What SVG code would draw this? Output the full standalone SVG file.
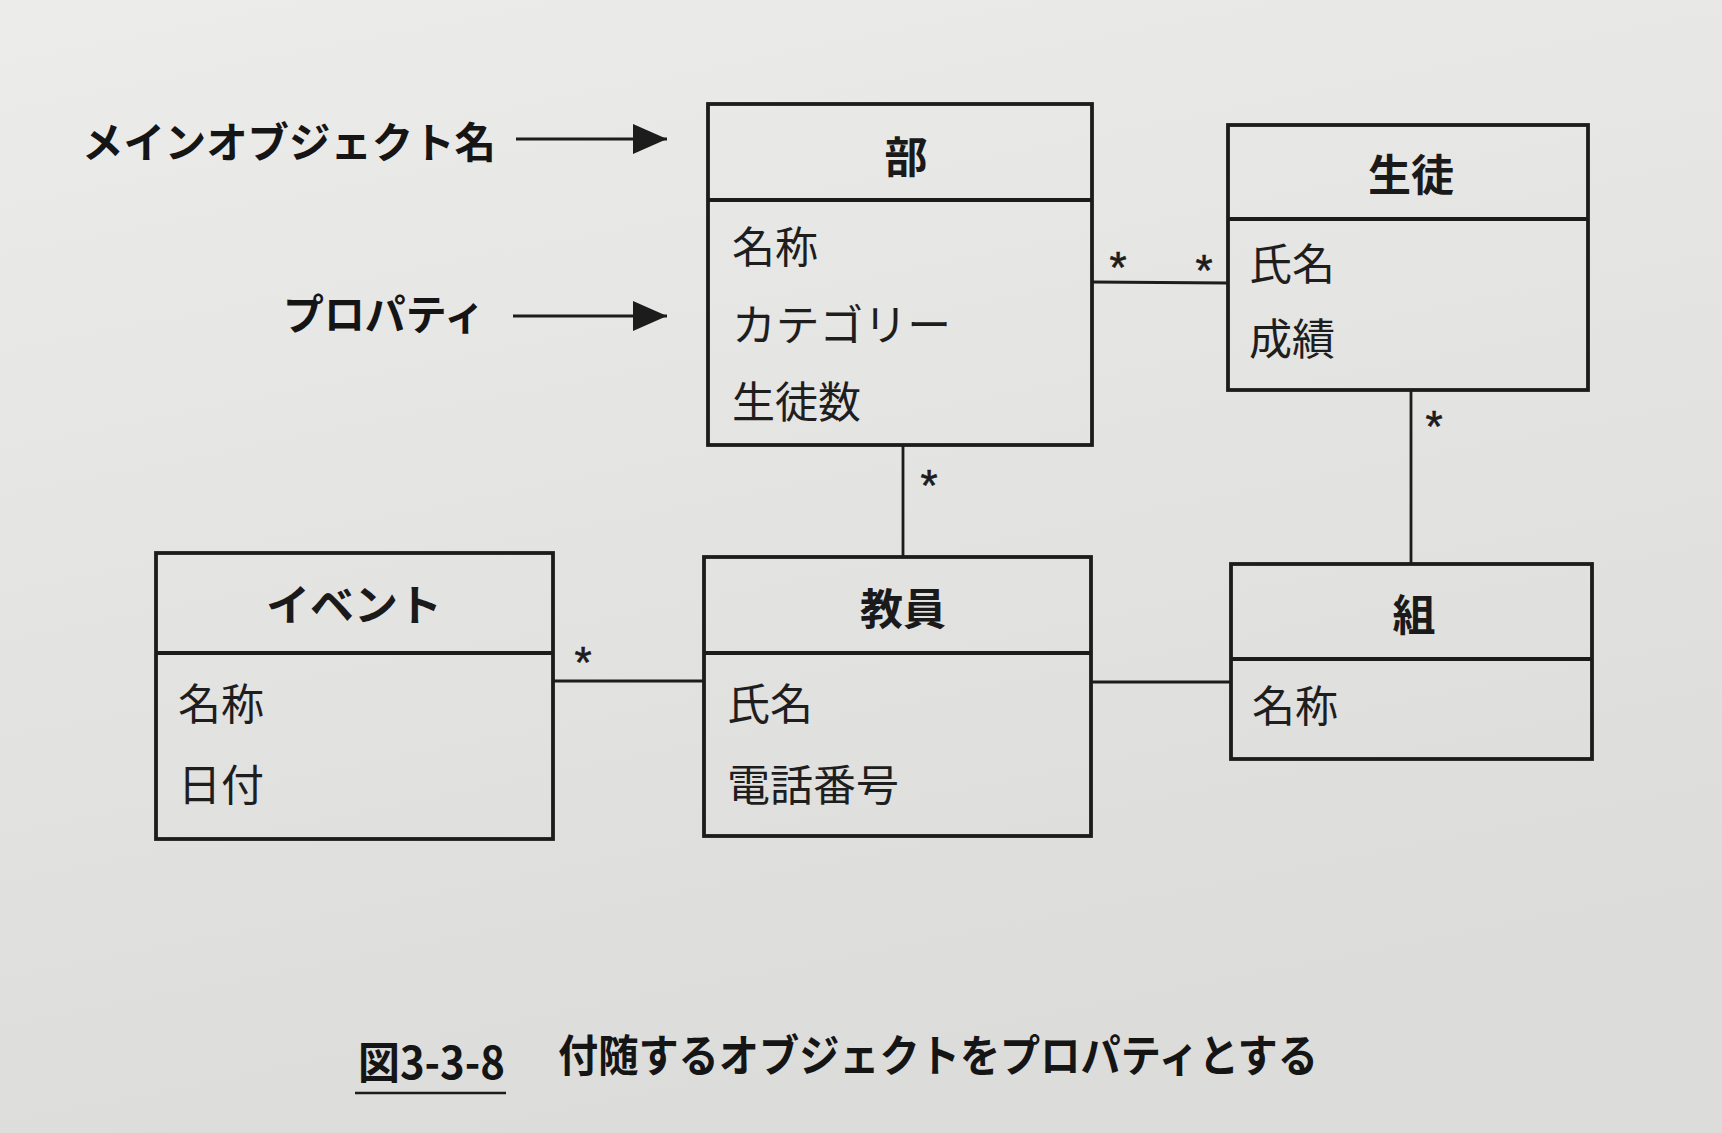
<svg xmlns="http://www.w3.org/2000/svg" width="1722" height="1133" viewBox="0 0 1722 1133">
<style>
.box{fill:none;stroke:#1c1c1c;stroke-width:3.8}
.div{stroke:#1c1c1c;stroke-width:3.8}
.con{stroke:#1c1c1c;stroke-width:2.8;fill:none}
.arr{stroke:#1c1c1c;stroke-width:3.2;fill:none}
.t{font-family:"Noto Sans CJK JP","Noto Sans",sans-serif;font-weight:700;font-size:43px;fill:#1a1a1a;text-anchor:middle;dominant-baseline:central}
.p{font-family:"Noto Sans CJK JP","Noto Sans",sans-serif;font-weight:400;font-size:43px;fill:#1e1e1e;dominant-baseline:central}
.lbl{font-family:"Noto Sans CJK JP","Noto Sans",sans-serif;font-weight:700;font-size:42px;fill:#151515;dominant-baseline:central}
.star{font-family:"Liberation Sans",sans-serif;font-size:44px;fill:#1c1c1c;stroke:#1c1c1c;stroke-width:0.6;text-anchor:middle}
.cap{font-family:"Noto Sans CJK JP","Noto Sans",sans-serif;font-weight:700;font-size:44px;fill:#151515;dominant-baseline:central}
</style>
<defs>
<linearGradient id="bg" x1="0" y1="0" x2="0.3" y2="1">
<stop offset="0" stop-color="#ececea"/>
<stop offset="1" stop-color="#dcdcda"/>
</linearGradient>
<marker id="ahBig" viewBox="0 0 34 30" refX="34" refY="15" markerWidth="34" markerHeight="30" markerUnits="userSpaceOnUse" orient="auto">
<path d="M0,0 L34,15 L0,30 Z" fill="#1c1c1c"/>
</marker>
</defs>
<rect x="0" y="0" width="1722" height="1133" fill="url(#bg)"/>

<g id="label-main">
<text class="lbl" x="82" y="139" textLength="414" lengthAdjust="spacingAndGlyphs">メインオブジェクト名</text>
</g>
<g id="label-prop">
<text class="lbl" x="283" y="311" textLength="202" lengthAdjust="spacingAndGlyphs">プロパティ</text>
</g>

<g id="connectors">
<line class="arr" x1="516" y1="139" x2="667" y2="139" marker-end="url(#ahBig)"/>
<line class="arr" x1="513" y1="316" x2="667" y2="316" marker-end="url(#ahBig)"/>
<line class="con" x1="1092" y1="282" x2="1228" y2="283"/>
<line class="con" x1="903" y1="445" x2="903" y2="557"/>
<line class="con" x1="1411" y1="390" x2="1411" y2="564"/>
<line class="con" x1="553" y1="681" x2="704" y2="681"/>
<line class="con" x1="1091" y1="682" x2="1231" y2="682"/>
<text class="star" x="1118" y="283">*</text>
<text class="star" x="1204" y="286">*</text>
<text class="star" x="929" y="501">*</text>
<text class="star" x="1434" y="442">*</text>
<text class="star" x="583" y="678">*</text>
</g>

<g id="node-bu">
<rect class="box" x="708" y="104" width="384" height="341"/>
<line class="div" x1="708" y1="200" x2="1092" y2="200"/>
<text class="t" x="906" y="154">部</text>
<text class="p" x="732" y="244">名称</text>
<text class="p" x="732" y="322" textLength="219" lengthAdjust="spacingAndGlyphs">カテゴリー</text>
<text class="p" x="732" y="399">生徒数</text>
</g>

<g id="node-seito">
<rect class="box" x="1228" y="125" width="360" height="265"/>
<line class="div" x1="1228" y1="219" x2="1588" y2="219"/>
<text class="t" x="1411" y="172">生徒</text>
<text class="p" x="1249" y="261">氏名</text>
<text class="p" x="1249" y="336">成績</text>
</g>

<g id="node-event">
<rect class="box" x="156" y="553" width="397" height="286"/>
<line class="div" x1="156" y1="653" x2="553" y2="653"/>
<text class="t" x="354" y="602" textLength="176" lengthAdjust="spacingAndGlyphs">イベント</text>
<text class="p" x="178" y="701">名称</text>
<text class="p" x="178" y="782">日付</text>
</g>

<g id="node-kyoin">
<rect class="box" x="704" y="557" width="387" height="279"/>
<line class="div" x1="704" y1="653" x2="1091" y2="653"/>
<text class="t" x="903" y="606">教員</text>
<text class="p" x="727" y="701">氏名</text>
<text class="p" x="727" y="782">電話番号</text>
</g>

<g id="node-kumi">
<rect class="box" x="1231" y="564" width="361" height="195"/>
<line class="div" x1="1231" y1="659" x2="1592" y2="659"/>
<text class="t" x="1414" y="612">組</text>
<text class="p" x="1252" y="703">名称</text>
</g>

<g id="caption">
<text class="cap" x="358" y="1060" textLength="147" lengthAdjust="spacingAndGlyphs">図3-3-8</text>
<line x1="355" y1="1093" x2="506" y2="1093" stroke="#1c1c1c" stroke-width="2.5"/>
<text class="cap" x="558" y="1053" textLength="760" lengthAdjust="spacingAndGlyphs">付随するオブジェクトをプロパティとする</text>
</g>
</svg>
